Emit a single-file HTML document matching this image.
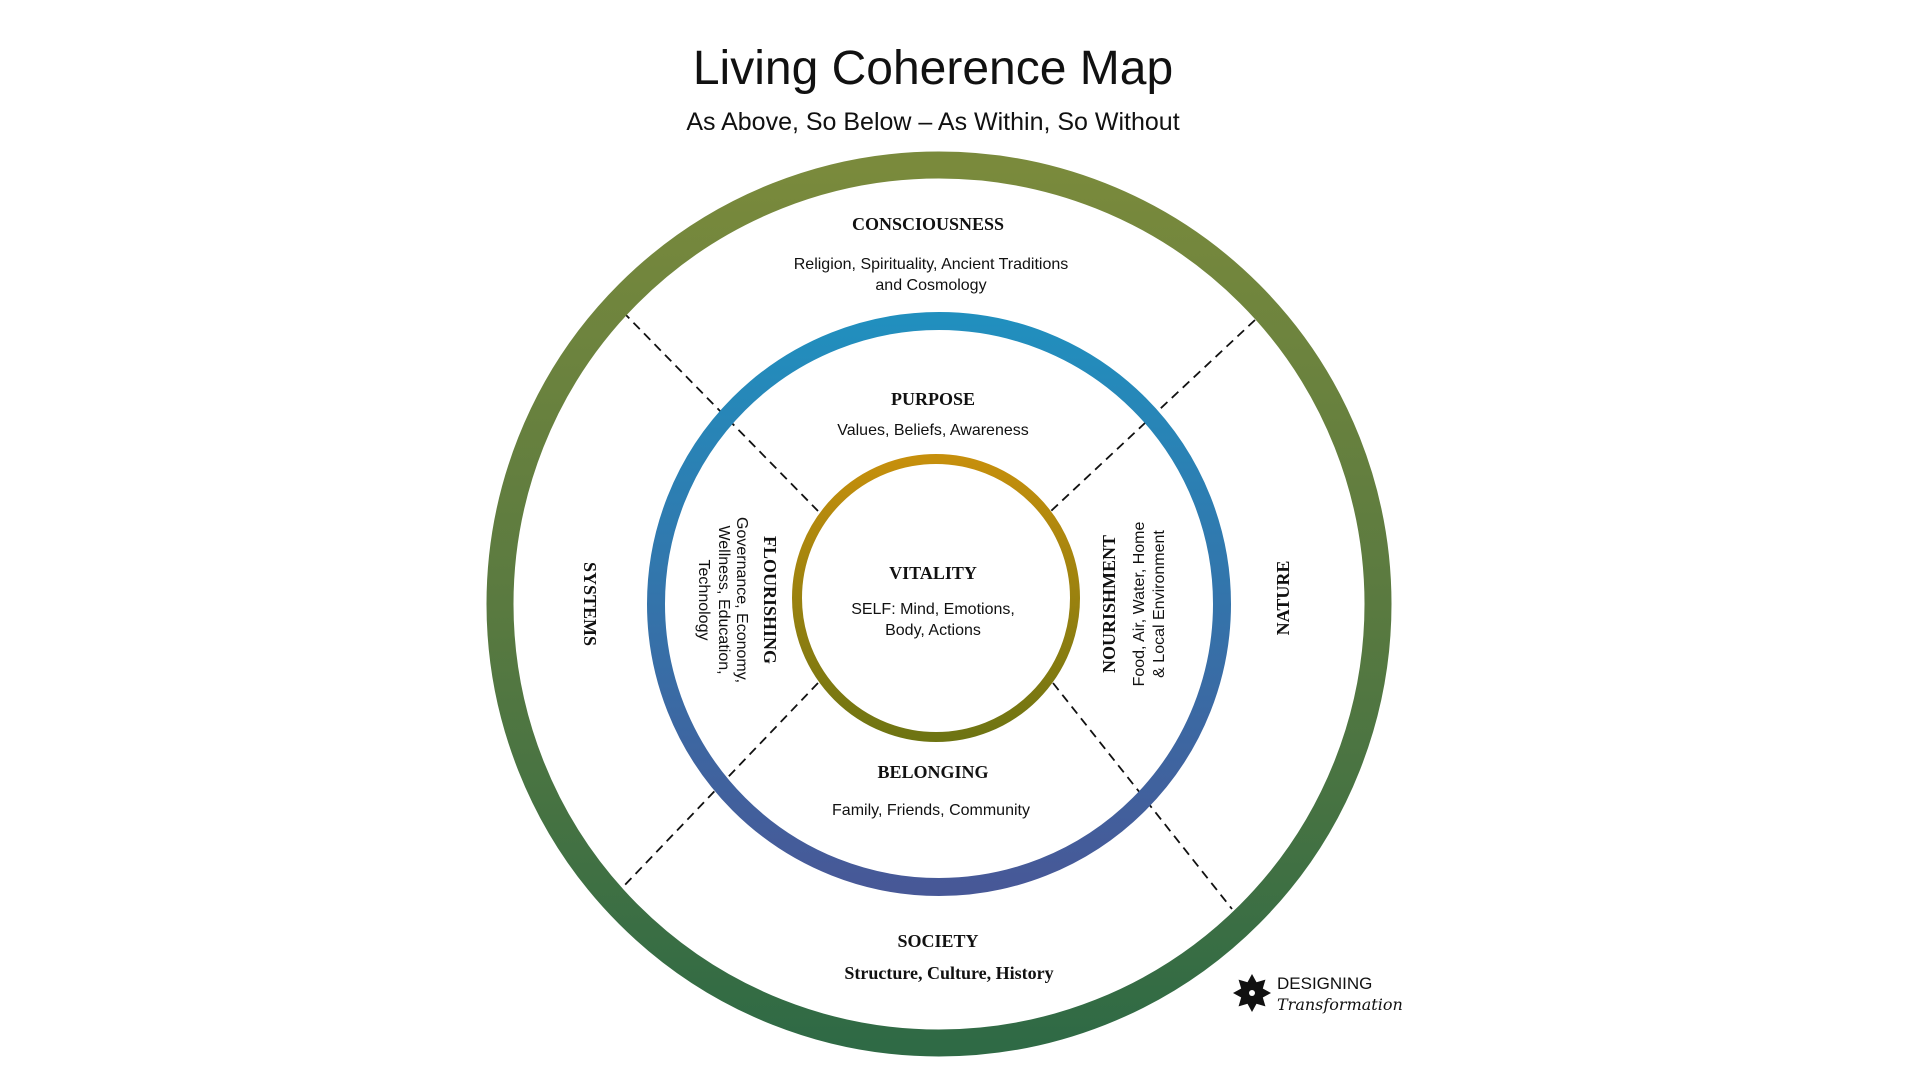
<!DOCTYPE html>
<html><head><meta charset="utf-8"><style>
html,body{margin:0;padding:0;background:#fff;}
svg{display:block}
.t{font-family:"Liberation Sans","DejaVu Sans",sans-serif;fill:#111;}
.s{font-family:"Liberation Serif","DejaVu Serif",serif;font-weight:bold;fill:#111;}
</style></head><body>
<svg width="1920" height="1080" viewBox="0 0 1920 1080" xmlns="http://www.w3.org/2000/svg">
<defs>
<linearGradient id="g1" x1="0" y1="0" x2="0" y2="1"><stop offset="0" stop-color="#7a8a3c"/><stop offset="0.5" stop-color="#5a7a40"/><stop offset="1" stop-color="#2f6a45"/></linearGradient>
<linearGradient id="g2" x1="0" y1="0" x2="0" y2="1"><stop offset="0" stop-color="#218fbe"/><stop offset="1" stop-color="#475897"/></linearGradient>
<linearGradient id="g3" x1="0" y1="0" x2="0" y2="1"><stop offset="0" stop-color="#c68f0c"/><stop offset="1" stop-color="#6e7412"/></linearGradient>
</defs>
<text x="933" y="84" text-anchor="middle" class="t" font-size="48">Living Coherence Map</text>
<text x="933" y="130" text-anchor="middle" class="t" font-size="25">As Above, So Below – As Within, So Without</text>

<g stroke="#111" stroke-width="1.8" stroke-dasharray="9,6" fill="none">
<line x1="623" y1="312" x2="818" y2="511"/>
<line x1="1255" y1="320" x2="1051" y2="511"/>
<line x1="818" y1="683" x2="622" y2="888"/>
<line x1="1053" y1="683" x2="1232" y2="909"/>
</g>
<circle cx="939" cy="604" r="439" fill="none" stroke="url(#g1)" stroke-width="27"/>
<circle cx="939" cy="604" r="283" fill="none" stroke="url(#g2)" stroke-width="18"/>
<circle cx="936" cy="598" r="139" fill="none" stroke="url(#g3)" stroke-width="10"/>

<text x="928" y="230" text-anchor="middle" class="s" font-size="18">CONSCIOUSNESS</text>
<text x="931" y="269" text-anchor="middle" class="t" font-size="16">Religion, Spirituality, Ancient Traditions</text>
<text x="931" y="290" text-anchor="middle" class="t" font-size="16">and Cosmology</text>

<text x="933" y="405" text-anchor="middle" class="s" font-size="18">PURPOSE</text>
<text x="933" y="435" text-anchor="middle" class="t" font-size="16">Values, Beliefs, Awareness</text>

<text x="933" y="579" text-anchor="middle" class="s" font-size="18">VITALITY</text>
<text x="933" y="614" text-anchor="middle" class="t" font-size="16">SELF: Mind, Emotions,</text>
<text x="933" y="635" text-anchor="middle" class="t" font-size="16">Body, Actions</text>

<text x="933" y="778" text-anchor="middle" class="s" font-size="18">BELONGING</text>
<text x="931" y="815" text-anchor="middle" class="t" font-size="16">Family, Friends, Community</text>

<text x="938" y="947" text-anchor="middle" class="s" font-size="18">SOCIETY</text>
<text x="949" y="979" text-anchor="middle" class="s" font-size="18">Structure, Culture, History</text>

<text transform="translate(584,604) rotate(90)" text-anchor="middle" class="s" font-size="18">SYSTEMS</text>
<text transform="translate(764,600) rotate(90)" text-anchor="middle" class="s" font-size="18">FLOURISHING</text>
<text transform="translate(737,600) rotate(90)" text-anchor="middle" class="t" font-size="16">Governance, Economy,</text>
<text transform="translate(719,600) rotate(90)" text-anchor="middle" class="t" font-size="16">Wellness, Education,</text>
<text transform="translate(699,600) rotate(90)" text-anchor="middle" class="t" font-size="16">Technology</text>

<text transform="translate(1115,604) rotate(-90)" text-anchor="middle" class="s" font-size="18">NOURISHMENT</text>
<text transform="translate(1144,604) rotate(-90)" text-anchor="middle" class="t" font-size="16">Food, Air, Water, Home</text>
<text transform="translate(1164,604) rotate(-90)" text-anchor="middle" class="t" font-size="16">&amp; Local Environment</text>
<text transform="translate(1289,598) rotate(-90)" text-anchor="middle" class="s" font-size="18">NATURE</text>

<g transform="translate(1252,993)">
<g fill="#111">
<path d="M0,-19 L6,-8 L0,0 L-6,-8Z"/>
<path d="M0,-19 L6,-8 L0,0 L-6,-8Z" transform="rotate(45)"/>
<path d="M0,-19 L6,-8 L0,0 L-6,-8Z" transform="rotate(90)"/>
<path d="M0,-19 L6,-8 L0,0 L-6,-8Z" transform="rotate(135)"/>
<path d="M0,-19 L6,-8 L0,0 L-6,-8Z" transform="rotate(180)"/>
<path d="M0,-19 L6,-8 L0,0 L-6,-8Z" transform="rotate(225)"/>
<path d="M0,-19 L6,-8 L0,0 L-6,-8Z" transform="rotate(270)"/>
<path d="M0,-19 L6,-8 L0,0 L-6,-8Z" transform="rotate(315)"/>
<circle r="10"/>
</g>
<circle r="3" fill="#fff"/>
</g>
<text x="1277" y="989" class="t" font-size="17">DESIGNING</text>
<text x="1277" y="1010" font-family="'DejaVu Serif',serif" font-style="italic" font-size="16" fill="#111">Transformation</text>
</svg>
</body></html>
